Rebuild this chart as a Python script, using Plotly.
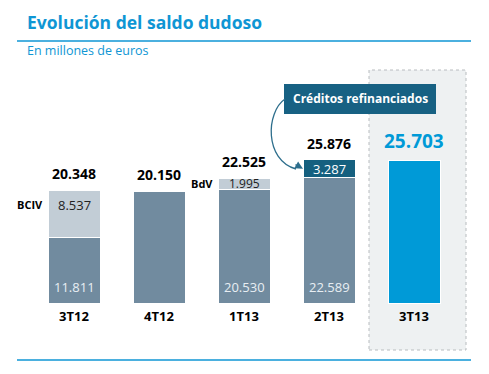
import plotly.graph_objects as go

categories = ["3T12", "4T12", "1T13", "2T13", "3T13"]
base_values = [11811, 20150, 20530, 22589, None]
extra_values = [8537, None, 1995, None, None]
refin_values = [None, None, None, 3287, None]
current_values = [None, None, None, None, 25703]
totals = [20348, 20150, 22525, 25876, 25703]
extra_names = ["BCIV", None, "BdV", None, None]

def fmt(v):
    return f"{v:,}".replace(",", ".")

W, H = 489, 374
x0px, dxpx = 74, 85
base_px, scale = 303, 0.00554

xs = list(range(len(categories)))
FONT = "Open Sans"
C_BASE = "#718b9f"
C_EXTRA = "#c2cdd6"
C_REFIN = "#15607f"
C_CUR = "#009ad7"
C_TITLE = "#0f96d4"

fig = go.Figure()
bw = 52 / dxpx
line = dict(color="white", width=1)
fig.add_bar(x=xs, y=base_values, marker=dict(color=C_BASE, line=line), width=bw)
fig.add_bar(x=xs, y=extra_values, marker=dict(color=C_EXTRA, line=line), width=bw)
fig.add_bar(x=xs, y=refin_values, marker=dict(color=C_REFIN, line=line), width=bw)
fig.add_bar(x=xs, y=current_values, marker=dict(color=C_CUR, line=line), width=bw)

ann = []
# totals
for i, t in enumerate(totals):
    is_cur = current_values[i] is not None
    ann.append(dict(x=i, y=t, xref="x", yref="y", text=f"<b>{fmt(t)}</b>", showarrow=False,
                    yanchor="bottom", yshift=5,
                    font=dict(family=FONT, size=19 if is_cur else 14,
                              color=C_CUR if is_cur else "black")))
# base labels (only on stacked bars)
for i, v in enumerate(base_values):
    if v is not None and (extra_values[i] is not None or refin_values[i] is not None or i == 2):
        ann.append(dict(x=i, y=0, xref="x", yref="y", text=fmt(v), showarrow=False,
                        yanchor="bottom", yshift=5,
                        font=dict(family=FONT, size=13, color="#e8eef3")))
# extra labels
for i, v in enumerate(extra_values):
    if v is not None:
        b = base_values[i]
        if v > 4000:
            ann.append(dict(x=i, y=b + v, xref="x", yref="y", text=fmt(v), showarrow=False,
                            yanchor="top", yshift=-4, font=dict(family=FONT, size=13, color="#222")))
            ylab = b + v
            ysh = -14
        else:
            ann.append(dict(x=i, y=b + v / 2, xref="x", yref="y", text=fmt(v), showarrow=False,
                            yanchor="middle", font=dict(family=FONT, size=12, color="#222")))
            ylab = b + v / 2
            ysh = 0
        ann.append(dict(x=i - bw / 2, y=ylab, xref="x", yref="y", yshift=ysh,
                        text=f"<b>{extra_names[i]}</b>", showarrow=False, xanchor="right",
                        yanchor="middle", xshift=-3,
                        font=dict(family=FONT, size=11, color="black")))
for i, v in enumerate(refin_values):
    if v is not None:
        b = base_values[i]
        ann.append(dict(x=i, y=b + v / 2, xref="x", yref="y", text=fmt(v), showarrow=False,
                        yanchor="middle", font=dict(family=FONT, size=13, color="white")))
# category labels
for i, c in enumerate(categories):
    ann.append(dict(x=i, y=0, xref="x", yref="y", text=f"<b>{c}</b>", showarrow=False,
                    yanchor="middle", yshift=-13, font=dict(family=FONT, size=13, color="black")))

def px(x):
    return x / W

def py(y):
    return 1 - y / H

# title
ann.append(dict(x=px(25), y=py(22), xref="paper", yref="paper", xanchor="left", yanchor="middle",
                text="<b>Evolución del saldo dudoso</b>", showarrow=False,
                font=dict(family=FONT, size=17.5, color=C_TITLE)))
ann.append(dict(x=px(25), y=py(51), xref="paper", yref="paper", xanchor="left", yanchor="middle",
                text="En millones de euros", showarrow=False,
                font=dict(family=FONT, size=12.5, color=C_TITLE)))
# callout
ann.append(dict(x=px(360), y=py(99), xref="paper", yref="paper", xanchor="center", yanchor="middle",
                text="<b>Créditos refinanciados</b>", showarrow=False,
                font=dict(family=FONT, size=12, color="white")))
# arrow head
ann.append(dict(x=3 - bw / 2, y=base_values[3] + refin_values[3] / 2, xref="x", yref="y",
                ax=-9, ay=-5, text="", showarrow=True, arrowhead=2, arrowsize=1.2,
                arrowwidth=1.3, arrowcolor="#2d6e8c"))

shapes = [
    dict(type="rect", xref="paper", yref="paper", x0=px(369), x1=px(466), y0=py(350), y1=py(70),
         fillcolor="#eef1f2", line=dict(color="#b8bcbf", width=1, dash="dot"), layer="below"),
    dict(type="line", xref="paper", yref="paper", x0=px(17), x1=px(471), y0=py(41), y1=py(41),
         line=dict(color=C_TITLE, width=1.3)),
    dict(type="line", xref="paper", yref="paper", x0=px(17), x1=px(471), y0=py(360), y1=py(360),
         line=dict(color=C_TITLE, width=1.3)),
    dict(type="rect", xref="paper", yref="paper", x0=px(284), x1=px(436), y0=py(114), y1=py(84),
         fillcolor="#176183", line=dict(width=0), layer="above"),
    dict(type="path", xref="paper", yref="paper",
         path=f"M {px(285)},{py(99)} C {px(266)},{py(112)} {px(264)},{py(160)} {px(296)},{py(169)}",
         line=dict(color="#2d6e8c", width=1.3)),
]

fig.update_layout(
    barmode="stack", width=W, height=H, margin=dict(l=0, r=0, t=0, b=0),
    paper_bgcolor="white", plot_bgcolor="rgba(0,0,0,0)", showlegend=False,
    xaxis=dict(range=[-x0px / dxpx, (W - x0px) / dxpx], visible=False, fixedrange=True),
    yaxis=dict(range=[-(H - base_px) / scale, base_px / scale], visible=False, fixedrange=True),
    annotations=ann, shapes=shapes,
)
fig.write_html("out.html", config={"displayModeBar": False},
               post_script="document.body.style.margin='0';document.body.style.overflow='hidden';")
